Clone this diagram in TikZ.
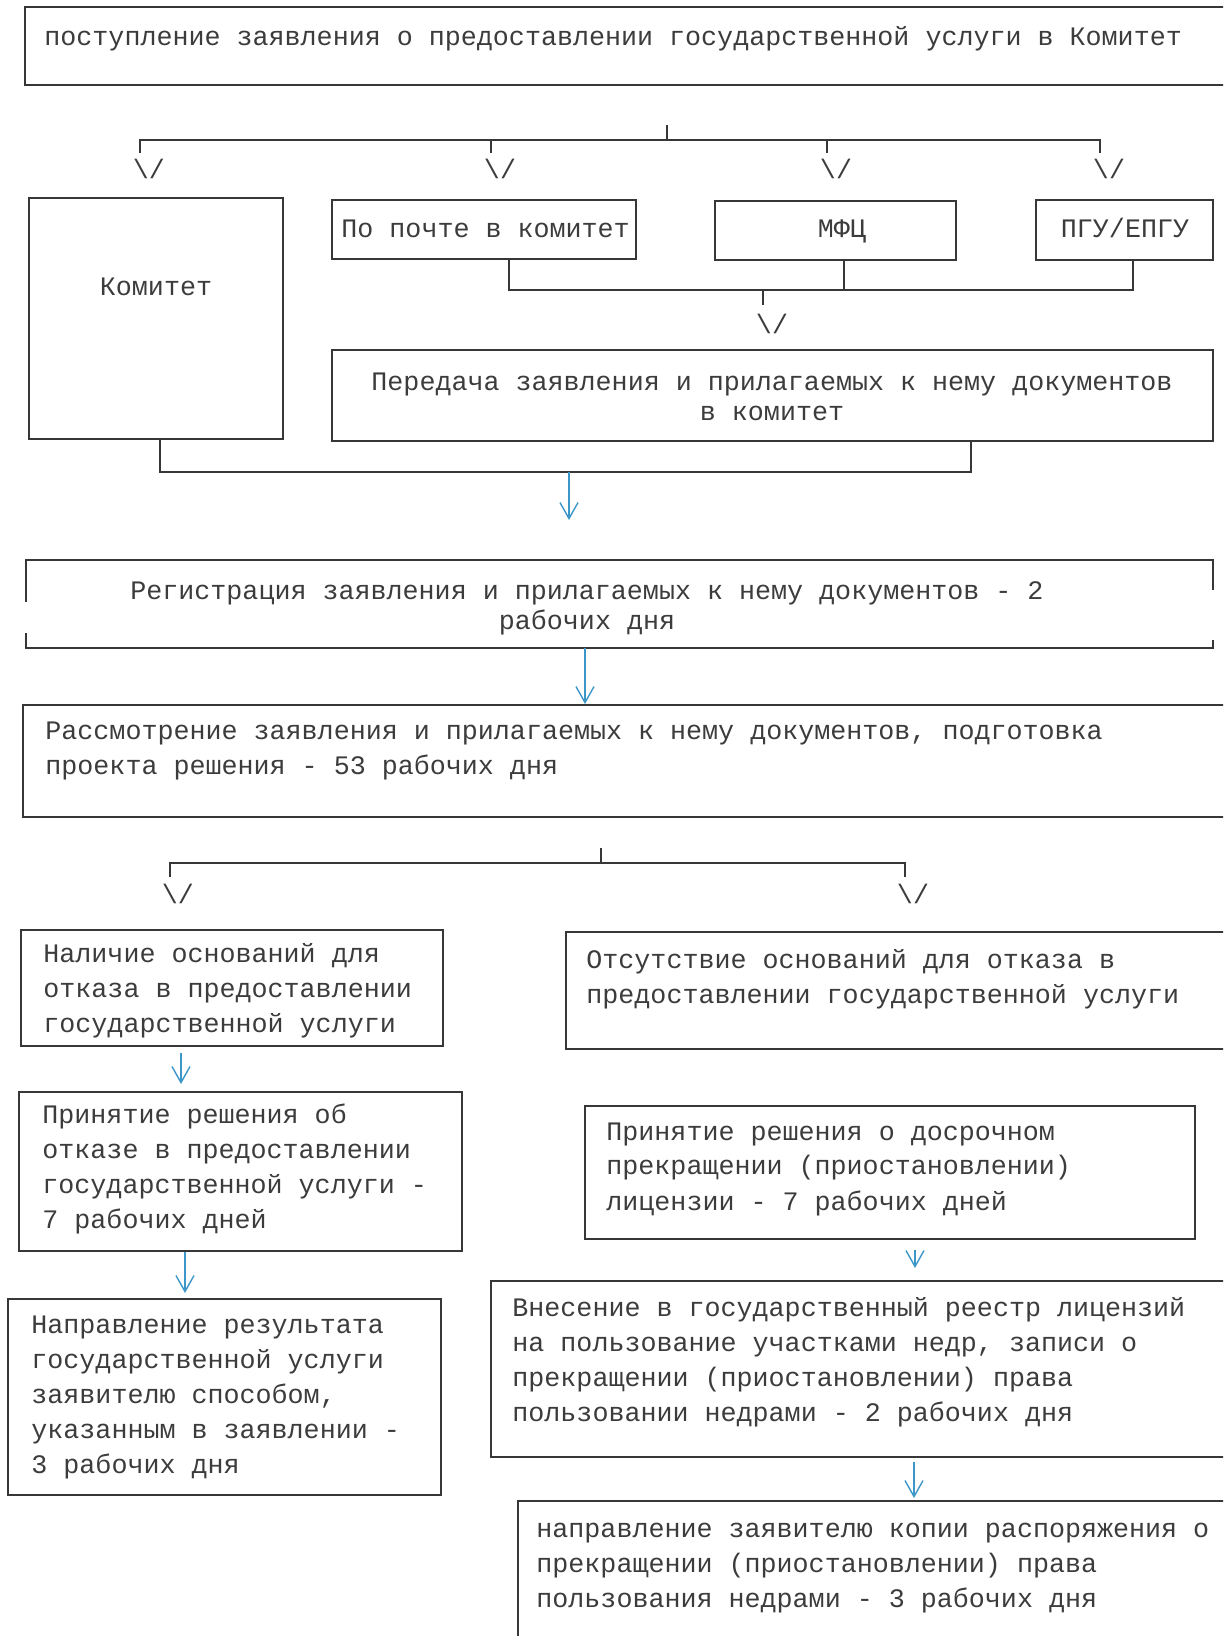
\documentclass[tikz,border=0pt]{standalone}
\usepackage{fontspec}
\setmainfont{Liberation Mono}
\usetikzlibrary{arrows.meta,fit}
\definecolor{ramka}{RGB}{55,55,55}
\definecolor{sinij}{RGB}{60,150,200}
\definecolor{bukvy}{RGB}{60,60,60}

\begin{document}
\frenchspacing
\begin{tikzpicture}[x=0.5pt, y=-0.5pt,
    font=\fontsize{13.35}{17.5}\selectfont,
    blok/.style={draw=ramka, line width=1pt, inner sep=0},
    liniya/.style={draw=ramka, line width=1pt},
    tekst/.style={inner sep=0, anchor=north west, align=left, text=bukvy,
      execute at begin node=\strut},
    centr/.style={tekst, anchor=north, align=center},
    plotno/.style={font=\fontsize{13.35}{15}\selectfont},
    galka/.style={inner sep=0, anchor=north, text=bukvy},
    strelka/.style={draw=sinij, line width=0.7pt,
      -{Straight Barb[length=8pt, width=9pt, line width=0.7pt]}}]
  \useasboundingbox (0,0) rectangle (1223,1636);
  \clip (0,0) rectangle (1223,1636);

  % boxes
  \node[blok, fit={(25,7) (1232,85)}] (postup) {};
  \node[blok, fit={(29,198) (283,439)}] (komitet) {};
  \node[blok, fit={(332,200) (636,259)}] (pochta) {};
  \node[blok, fit={(715,201) (956,260)}] (mfc) {};
  \node[blok, fit={(1036,200) (1213,260)}] (pgu) {};
  \node[blok, fit={(332,350) (1213,441)}] (peredacha) {};
  \node[inner sep=0, fit={(26,560) (1213,648)}] (registr) {};
  \draw[liniya] ([yshift=-21pt]registr.north west) -- (registr.north west)
    -- (registr.north east) -- ([yshift=-15pt]registr.north east);
  \draw[liniya] ([yshift=7.5pt]registr.south west) -- (registr.south west)
    -- (registr.south east) -- ([yshift=4pt]registr.south east);
  \node[blok, fit={(23,705) (1232,817)}] (rassm) {};
  \node[blok, fit={(21,930) (443,1046)}] (nalichie) {};
  \node[blok, fit={(566,932) (1232,1049)}] (otsut) {};
  \node[blok, fit={(19,1092) (462,1251)}] (otkaz) {};
  \node[blok, fit={(8,1299) (441,1495)}] (napr) {};
  \node[blok, fit={(585,1106) (1195,1239)}] (dosroch) {};
  \node[blok, fit={(491,1281) (1232,1457)}] (vnesenie) {};
  \node[blok, fit={(518,1501) (1232,1660)}] (kopiya) {};

  % texts
  \node[tekst] (postup-t) at (44,21)
    {поступление заявления о предоставлении государственной услуги в Комитет};
  \node[centr] (komitet-t) at (156,271) {Комитет};
  \node[tekst] (pochta-t) at (341,213) {По почте в комитет};
  \node[centr] (mfc-t) at (842,213) {МФЦ};
  \node[centr] (pgu-t) at (1125,213) {ПГУ/ЕПГУ};
  \node[centr, plotno] (peredacha-t) at (772,373)
    {Передача заявления и прилагаемых к нему документов\\в комитет};
  \node[centr, plotno] (registr-t) at (587,581)
    {Регистрация заявления и прилагаемых к нему документов - 2\\рабочих дня};
  \node[tekst] (rassm-t) at (45,722)
    {Рассмотрение заявления и прилагаемых к нему документов, подготовка\\проекта решения - 53 рабочих дня};
  \node[tekst] (nalichie-t) at (43,943)
    {Наличие оснований для\\отказа в предоставлении\\государственной услуги};
  \node[tekst] (otsut-t) at (586,949)
    {Отсутствие оснований для отказа в\\предоставлении государственной услуги};
  \node[tekst] (otkaz-t) at (42,1104)
    {Принятие решения об\\отказе в предоставлении\\государственной услуги -\\7 рабочих дней};
  \node[tekst] (napr-t) at (31,1315)
    {Направление результата\\государственной услуги\\заявителю способом,\\указанным в заявлении -\\3 рабочих дня};
  \node[tekst] (dosroch-t) at (606,1122)
    {Принятие решения о досрочном\\прекращении (приостановлении)\\лицензии - 7 рабочих дней};
  \node[tekst] (vnesenie-t) at (512,1297)
    {Внесение в государственный реестр лицензий\\на пользование участками недр, записи о\\прекращении (приостановлении) права\\пользовании недрами - 2 рабочих дня};
  \node[tekst] (kopiya-t) at (536,1523)
    {направление заявителю копии распоряжения о\\прекращении (приостановлении) права\\пользования недрами - 3 рабочих дня};

  % first fork
  \coordinate (r1) at (667,125);
  \coordinate (u1) at (667,140);
  \coordinate (d1) at (140,153);
  \coordinate (d2) at (491,153);
  \coordinate (d3) at (827,153);
  \coordinate (d4) at (1100,153);
  \draw[liniya] (r1) -- (u1);
  \draw[liniya] (d1) |- (u1) -| (d4);
  \foreach \d in {d2,d3}
    \draw[liniya] (\d) -- (\d |- u1);
  \foreach \d/\g in {d1/g1,d2/g2,d3/g3,d4/g4}
    \node[galka] (\g) at ([xshift=4.5pt,yshift=-3pt]\d) {\textbackslash/};

  % second fork
  \coordinate (u2) at (763,290);
  \coordinate (r2) at (763,305);
  \draw[liniya] ([xshift=12.5pt]pochta.south) |- (u2) -| ([xshift=4.25pt]pgu.south);
  \draw[liniya] ([xshift=4.25pt]mfc.south) -- ([xshift=4.25pt]mfc.south |- u2);
  \draw[liniya] (u2) -- (r2);
  \node[galka] (g5) at ([xshift=4.5pt,yshift=-4.5pt]r2) {\textbackslash/};

  % third fork
  \coordinate (u3) at (569,472);
  \coordinate (s3) at (569,520);
  \draw[liniya] ([xshift=2pt]komitet.south) |- (u3) -| ([xshift=99.25pt]peredacha.south);
  \draw[strelka] (u3) -- (s3);
  \draw[strelka] ([xshift=-17.25pt]registr.south) -- ([xshift=-17.25pt]registr.south |- rassm.north);

  % fourth fork
  \coordinate (r4) at (601,848);
  \coordinate (u4) at (601,863);
  \coordinate (d5) at (170,877);
  \coordinate (d6) at (905,877);
  \draw[liniya] (r4) -- (u4);
  \draw[liniya] (d5) |- (u4) -| (d6);
  \node[galka] (g6) at ([xshift=4pt,yshift=-3.5pt]d5) {\textbackslash/};
  \node[galka] (g7) at ([xshift=4pt,yshift=-3.5pt]d6) {\textbackslash/};

  % lower arrows
  \draw[strelka] ([xshift=-25.5pt,yshift=-3pt]nalichie.south) -- ([xshift=-29.75pt,yshift=3.5pt]otkaz.north);
  \draw[strelka] ([xshift=-27.75pt]otkaz.south) -- ([xshift=-19.75pt,yshift=2.5pt]napr.north);
  \draw[strelka] ([xshift=12.5pt,yshift=-5pt]dosroch.south) -- ([xshift=26.75pt,yshift=6pt]vnesenie.north);
  \draw[strelka] ([xshift=26.25pt,yshift=-2pt]vnesenie.south) -- ([xshift=19.5pt,yshift=1pt]kopiya.north);
\end{tikzpicture}
\end{document}
